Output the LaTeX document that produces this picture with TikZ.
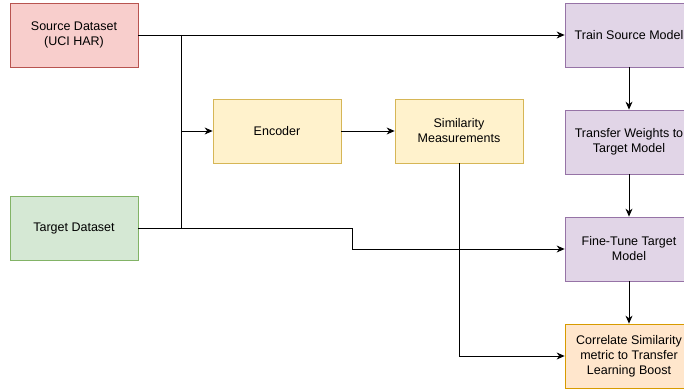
\documentclass[tikz,border=0pt]{standalone}
\usepackage{fontspec}
\setmainfont{Liberation Sans}
\usetikzlibrary{arrows.meta,positioning}
\tikzset{>=Stealth}

\definecolor{redfill}{HTML}{F8CECC}   \definecolor{redline}{HTML}{B85450}
\definecolor{greenfill}{HTML}{D5E8D4} \definecolor{greenline}{HTML}{82B366}
\definecolor{yellowfill}{HTML}{FFF2CC}\definecolor{yellowline}{HTML}{D6B656}
\definecolor{purplefill}{HTML}{E1D5E7}\definecolor{purpleline}{HTML}{9673A6}
\definecolor{orangefill}{HTML}{FFE6CC}\definecolor{orangeline}{HTML}{D79B00}

\tikzstyle{block} = [%
					draw, line width = 0.8,
					minimum width = 128, minimum height = 64,
					inner sep = 0, align = center,
					font = \fontsize{12.5}{15}\selectfont
					]
\tikzstyle{link} = [line width = 0.8, ->, >={Stealth[length=8pt,width=7pt]}]

\begin{document}
\begin{tikzpicture}[x=1pt,y=-1pt]
    % page frame (pixels of the reference, y downwards)
    \useasboundingbox (0,0) rectangle (684,390);
    \clip (0,0) rectangle (684,390);

    % Datasets
    \node[block, fill=redfill, draw=redline]     (source) at (74,35)  {Source Dataset\\(UCI HAR)};
    \node[block, fill=greenfill, draw=greenline] (target) at (74,228) {Target Dataset};

    % Similarity branch
    \node[block, fill=yellowfill, draw=yellowline] (encoder)    at (277,131) {Encoder};
    \node[block, fill=yellowfill, draw=yellowline] (similarity) at (459,131) {Similarity\\Measurements};

    % Transfer learning chain
    \node[block, fill=purplefill, draw=purpleline] (train)     at (629,35)  {Train Source Model};
    \node[block, fill=purplefill, draw=purpleline] (transfer)  at (629,142) {Transfer Weights to\\Target Model};
    \node[block, fill=purplefill, draw=purpleline] (finetune)  at (629,249) {Fine-Tune Target\\Model};
    \node[block, fill=orangefill, draw=orangeline] (correlate) at (629,356) {Correlate Similarity\\metric to Transfer\\Learning Boost};

    \coordinate (split) at (181,35);
    \coordinate (join)  at (181,228);
    \coordinate (bend)  at (352,249);

    % connectors
    \draw[link] (source) -- (train);
    \draw[line width = 0.8] (split) -- (join);
    \draw[link] (split |- encoder) -- (encoder);
    \draw[link] (target.east) -| (bend) -- (finetune.west);
    \draw[link] (encoder) -- (similarity);
    \draw[link] (similarity.south) |- (correlate.west);
    \draw[link] (train) -- (transfer);
    \draw[link] (transfer) -- (finetune);
    \draw[link] (finetune) -- (correlate);

\end{tikzpicture}
\end{document}
